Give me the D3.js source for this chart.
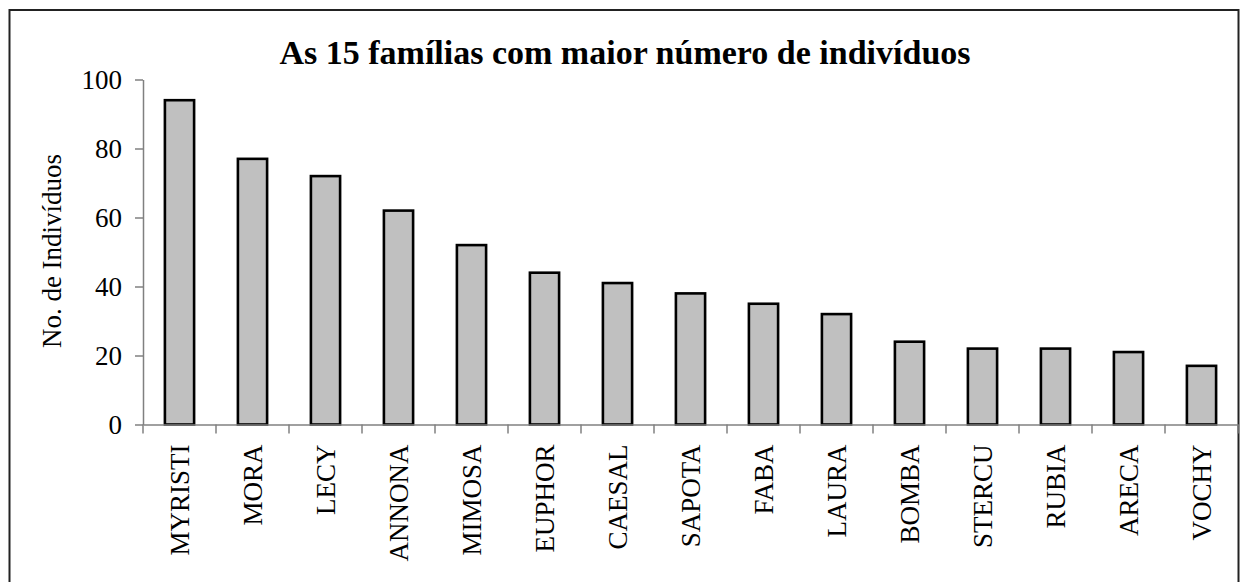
<!DOCTYPE html>
<html>
<head>
<meta charset="utf-8">
<script src="https://cdn.jsdelivr.net/npm/d3@7"></script>
<style>
  body { margin: 0; background: #fff; }
  svg { display: block; font-family: "Liberation Serif", "Times New Roman", serif; }
  .axis path, .axis line { stroke: #808080; stroke-width: 1.5; }
  .axis text { fill: #000; font-size: 27px; font-family: "Liberation Serif", serif; }
</style>
</head>
<body>
<svg width="1242" height="582"></svg>
<script>
var families = ["MYRISTI", "MORA", "LECY", "ANNONA", "MIMOSA", "EUPHOR", "CAESAL",
                "SAPOTA", "FABA", "LAURA", "BOMBA", "STERCU", "RUBIA", "ARECA", "VOCHY"];
var counts = [94, 77, 72, 62, 52, 44, 41, 38, 35, 32, 24, 22, 22, 21, 17];
var yTicks = [0, 20, 40, 60, 80, 100];

var svg = d3.select("svg"),
    width = +svg.attr("width"),
    height = +svg.attr("height");

var data = families.map(function (f, i) { return { name: f, value: counts[i] }; });

// outer chart frame
svg.append("rect")
    .attr("x", 9.5)
    .attr("y", 10)
    .attr("width", 1229)
    .attr("height", 585)
    .attr("fill", "none")
    .attr("stroke", "#222")
    .attr("stroke-width", 2);

var x = d3.scaleBand()
    .domain(families)
    .range([143, 1238])
    .paddingInner(0.6)
    .paddingOuter(0.3);

var y = d3.scaleLinear()
    .domain([0, 100])
    .range([424.5, 79.5]);

// bars
svg.append("g")
    .selectAll("rect")
    .data(data)
    .enter().append("rect")
    .attr("x", function (d) { return x(d.name); })
    .attr("y", function (d) { return y(d.value); })
    .attr("width", x.bandwidth())
    .attr("height", function (d) { return y(0) - y(d.value); })
    .attr("fill", "#c0c0c0")
    .attr("stroke", "#000")
    .attr("stroke-width", 2.6);

// y axis
svg.append("g")
    .attr("class", "axis")
    .attr("transform", "translate(143,0)")
    .call(d3.axisLeft(y).tickValues(yTicks).tickSize(8).tickPadding(13).tickSizeOuter(0));

// x axis: labels at band centres, tick marks between bands
var xAxis = svg.append("g")
    .attr("class", "axis")
    .attr("transform", "translate(0," + y(0) + ")")
    .call(d3.axisBottom(x).tickSize(0).tickSizeOuter(0));

xAxis.selectAll("text")
    .attr("transform", "rotate(-90)")
    .attr("text-anchor", "end")
    .attr("x", -20)
    .attr("y", 0)
    .attr("dy", "0.35em");

var bounds = families.map(function (f) { return x(f) + x.bandwidth() / 2 - x.step() / 2; });
bounds.push(x.range()[1]);

xAxis.selectAll(".sep")
    .data(bounds)
    .enter().append("line")
    .attr("class", "sep")
    .attr("x1", function (d) { return d; })
    .attr("x2", function (d) { return d; })
    .attr("y1", 0)
    .attr("y2", 9);

// title
svg.append("text")
    .attr("x", 625)
    .attr("y", 63.5)
    .attr("text-anchor", "middle")
    .attr("font-size", 34)
    .attr("font-weight", "bold")
    .text("As 15 famílias com maior número de indivíduos");

// y axis label
svg.append("text")
    .attr("transform", "translate(61,251) rotate(-90)")
    .attr("text-anchor", "middle")
    .attr("font-size", 27)
    .text("No. de Indivíduos");
</script>
</body>
</html>
